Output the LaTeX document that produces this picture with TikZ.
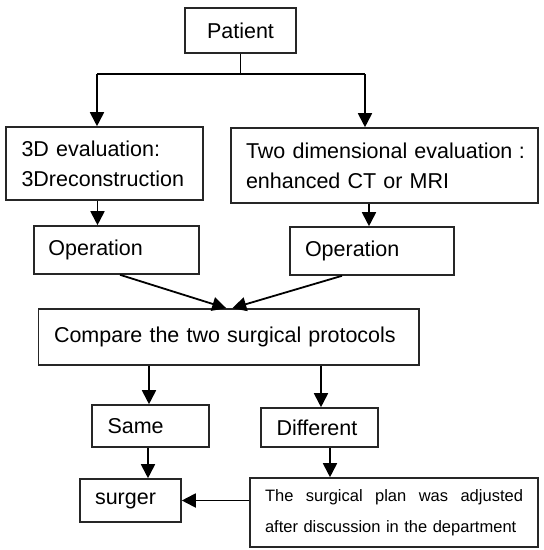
\documentclass[tikz,border=0pt]{standalone}
\usepackage{fontspec}
\setmainfont{Liberation Sans}
\usetikzlibrary{arrows.meta,calc}
\begin{document}
\begin{tikzpicture}[x=1pt,y=-1pt,
  box/.style={draw=black!85,line width=1.6pt,rectangle,inner ysep=0pt,align=left,
    font=\fontsize{21.5}{30}\selectfont},
  arr/.style={line width=1.8pt,-{Triangle[width=14pt,length=14pt]}},
  ln/.style={line width=1.8pt}]
\useasboundingbox (0,0) rectangle (544,550);
\node[box,minimum width=111,minimum height=45,align=center,inner xsep=0pt] (pat) at (240.5,30.5) {Patient};
\node[box,minimum height=73,inner xsep=15.5,text width=166] (d3) at (104.5,163.5) {3D evaluation:\\3Dreconstruction};
\node[box,minimum height=75,inner xsep=15,text width=277] (d2) at (384.5,165.5) {\mbox{Two dimensional evaluation\hspace{0.3em}:}\\enhanced CT or MRI};
\node[box,minimum height=48,inner xsep=14.5,text width=136] (opl) at (116.5,250) {Operation};
\node[box,minimum height=48,inner xsep=15,text width=134] (opr) at (372,251) {Operation};
\node[box,minimum height=56,inner xsep=15.5,text width=349.5] (cmp) at (228.75,337) {Compare the two surgical protocols};
\node[box,minimum height=42,inner xsep=15.5,text width=86] (same) at (150.5,426) {Same};
\node[box,minimum height=39,inner xsep=15.5,text width=86] (diff) at (319.5,427.5) {Different};
\node[box,minimum height=43,inner xsep=15,text width=71] (sur) at (130.5,500.5) {surger};
\node[box,minimum height=69,inner xsep=15,text width=258,font=\fontsize{16.5}{31}\selectfont] (plan) at (394,512.5)
  {The\hfill surgical\hfill plan\hfill was\hfill adjusted\\after discussion in the department};
\coordinate (jl) at (97,74);
\coordinate (jr) at (365,74);
\draw[ln] (pat.south) -- (pat.south |- jl);
\draw[ln] (jl) -- (jr);
\draw[arr] (jl) -- (jl |- d3.north);
\draw[arr] (jr) -- (jr |- d2.north);
\draw[arr] ([xshift=-7pt]d3.south) -- ([xshift=-7pt]d3.south |- opl.north);
\draw[arr] ([xshift=-15.5pt]d2.south) -- ([xshift=-15.5pt]d2.south |- opr.north);
\draw[arr] ([xshift=3.5pt]opl.south) -- ([xshift=-2.5pt]cmp.north);
\draw[arr] ([xshift=-30pt]opr.south) -- ([xshift=3.5pt]cmp.north);
\draw[arr] ([xshift=-1.5pt]same.north |- cmp.south) -- ([xshift=-1.5pt]same.north);
\draw[arr] ([xshift=1.5pt]diff.north |- cmp.south) -- ([xshift=1.5pt]diff.north);
\draw[arr] ([xshift=-2.5pt]same.south) -- ([xshift=-2.5pt]same.south |- sur.north);
\draw[arr] ([xshift=10.5pt]diff.south) -- ([xshift=10.5pt]diff.south |- plan.north);
\draw[arr] (sur.east -| plan.west) -- (sur.east);
\end{tikzpicture}
\end{document}
